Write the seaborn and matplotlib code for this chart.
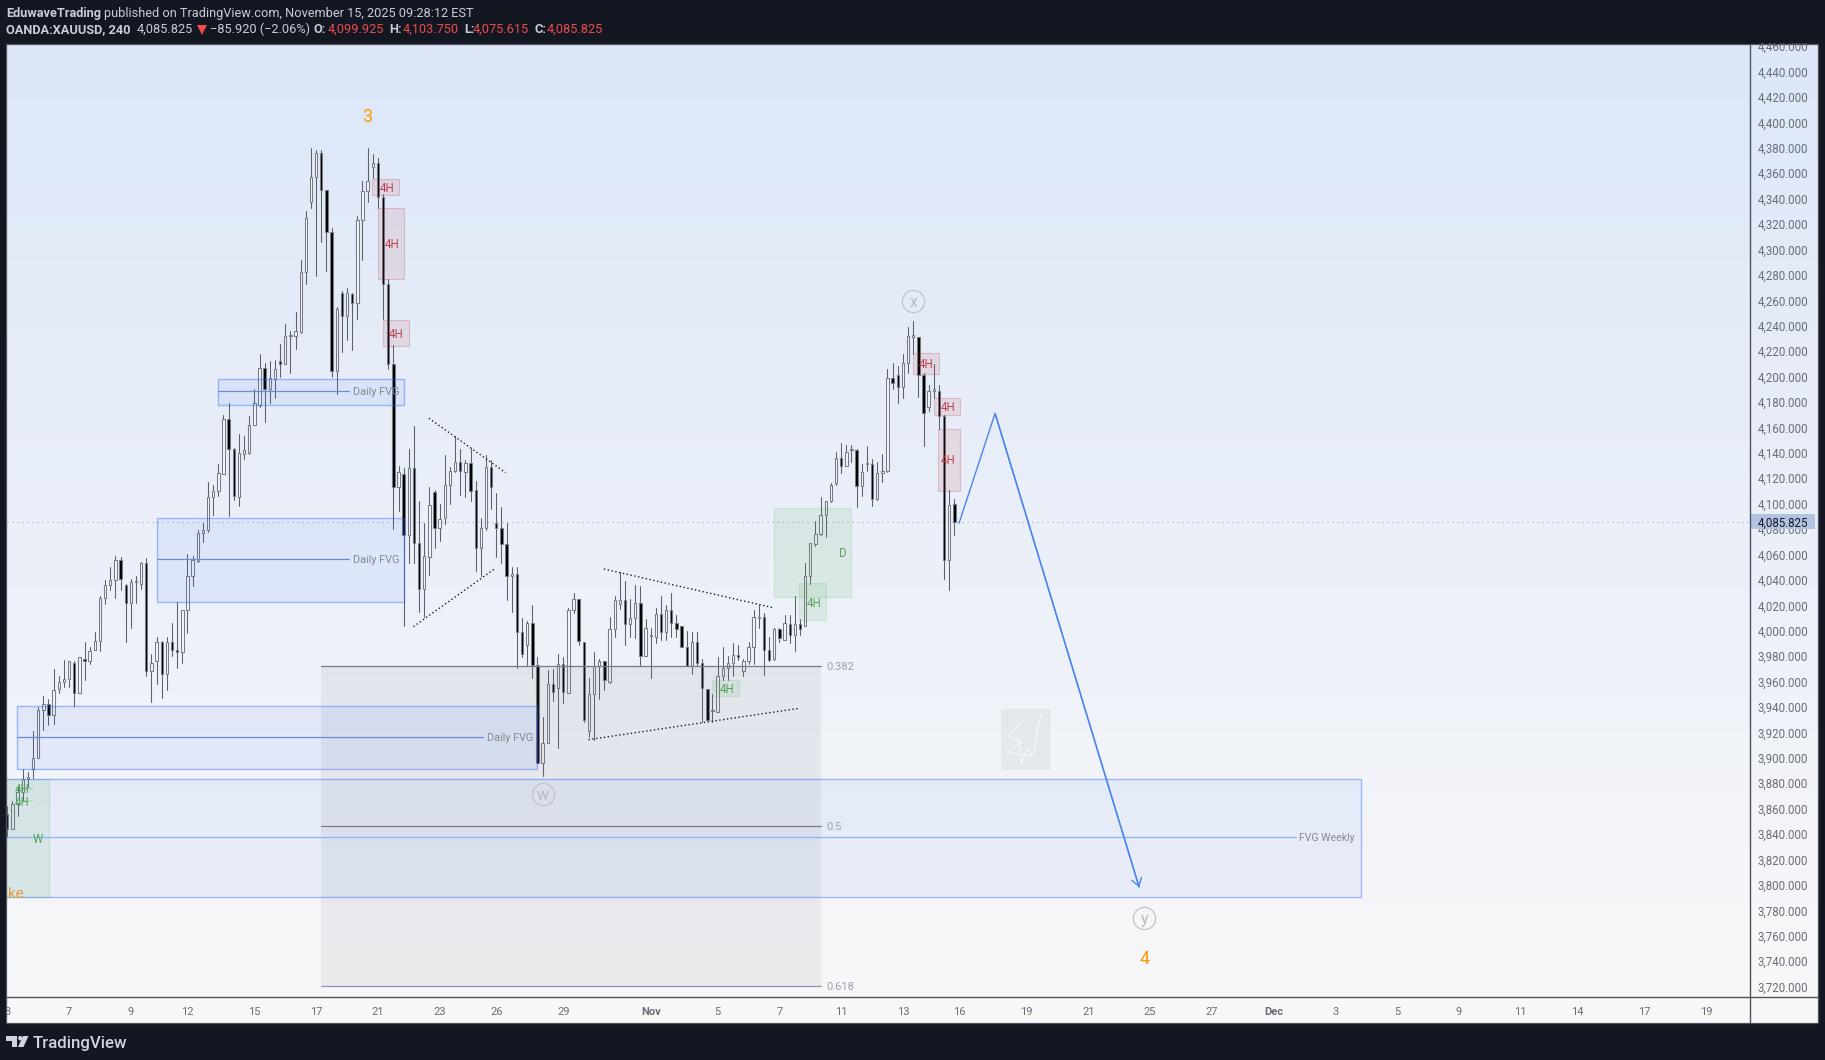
import matplotlib
matplotlib.use("Agg")

import matplotlib.pyplot as plt
import numpy as np
import pandas as pd
import seaborn as sns
from matplotlib.patches import Circle, Polygon, Rectangle

opens = [
    3856, 3844, 3864, 3873, 3883, 3891, 3900, 3938, 3942, 3934,
    3954, 3960, 3962, 3975, 3951, 3978, 3976, 3985, 3992, 4026,
    4036, 4040, 4056, 4036, 4022, 4038, 4037, 4053, 3968, 3976,
    3991, 3966, 3991, 3985, 3983, 4016, 4043, 4055, 4077, 4079,
    4105, 4110, 4123, 4167, 4143, 4105, 4139, 4140, 4162, 4178,
    4207, 4190, 4198, 4212, 4210, 4232, 4232, 4235, 4282, 4337,
    4357, 4376, 4347, 4314, 4204, 4266, 4248, 4265, 4258, 4323,
    4346, 4365, 4368, 4341, 4273, 4210, 4113, 4123, 4075, 4128,
    4069, 4033, 4058, 4109, 4081, 4089, 4115, 4126, 4133, 4125,
    4132, 4111, 4065, 4081, 4129, 4085, 4081, 4068, 4043, 4045,
    3999, 3989, 4006, 3973, 3896, 3912, 3958, 3955, 3974, 3951,
    4016, 4025, 3991, 3921, 3950, 3972, 3976, 3960, 4001, 4021,
    4024, 4005, 4010, 4022, 3980, 3996, 3995, 4013, 3999, 4016,
    4006, 4004, 3987, 3972, 3991, 3975, 3954, 3937, 3936, 3964,
    3971, 3975, 3981, 3968, 3976, 3987, 4010, 4011, 3985, 3978,
    4001, 3993, 4005, 3997, 4005, 4004, 4043, 4068, 4076, 4091,
    4102, 4116, 4136, 4130, 4142, 4142, 4114, 4131, 4131, 4104,
    4124, 4126, 4199, 4201, 4192, 4211, 4231, 4231, 4201, 4176,
    4189, 4189, 4169, 4056, 4099.925,
]
highs = [
    3862, 3866, 3877, 3891, 3889, 3921, 3940, 3949, 3946, 3970,
    3964, 3977, 3976, 3976, 3979, 3991, 3987, 3999, 4027, 4040,
    4050, 4059, 4058, 4037, 4041, 4043, 4054, 4057, 3982, 3995,
    3992, 3995, 4006, 4023, 4016, 4060, 4059, 4079, 4085, 4117,
    4115, 4131, 4170, 4179, 4144, 4155, 4153, 4169, 4190, 4218,
    4211, 4212, 4213, 4226, 4241, 4236, 4251, 4292, 4330, 4380,
    4378, 4378, 4347, 4317, 4255, 4267, 4270, 4266, 4326, 4354,
    4380, 4375, 4372, 4344, 4277, 4225, 4130, 4128, 4143, 4161,
    4102, 4085, 4113, 4111, 4100, 4138, 4129, 4153, 4143, 4134,
    4144, 4118, 4089, 4138, 4134, 4108, 4097, 4085, 4050, 4050,
    4010, 4008, 4020, 3979, 3932, 3969, 3970, 3982, 3979, 4018,
    4030, 4025, 3991, 3963, 3983, 3978, 3976, 4011, 4027, 4046,
    4039, 4025, 4036, 4035, 4009, 4002, 4018, 4027, 4020, 4030,
    4012, 4004, 4000, 3999, 3999, 3978, 3954, 3950, 3979, 3987,
    3980, 3990, 3989, 3978, 3991, 4016, 4020, 4014, 3995, 4002,
    4002, 4012, 4012, 4027, 4009, 4053, 4069, 4086, 4105, 4102,
    4116, 4141, 4148, 4146, 4146, 4143, 4131, 4145, 4135, 4133,
    4139, 4206, 4211, 4208, 4218, 4239, 4244, 4231, 4203, 4193,
    4210, 4193, 4170, 4111, 4103.75,
]
lows = [
    3838, 3844, 3854, 3867, 3877, 3884, 3900, 3922, 3926, 3927,
    3951, 3956, 3956, 3941, 3951, 3961, 3974, 3985, 3984, 4021,
    4032, 4026, 4032, 3991, 4002, 4022, 4033, 3964, 3944, 3958,
    3947, 3953, 3980, 3971, 3975, 3998, 4035, 4054, 4070, 4078,
    4091, 4106, 4123, 4090, 4103, 4098, 4135, 4139, 4162, 4176,
    4164, 4179, 4183, 4200, 4210, 4203, 4222, 4234, 4273, 4333,
    4279, 4306, 4283, 4200, 4186, 4219, 4229, 4221, 4245, 4292,
    4337, 4356, 4333, 4245, 4206, 4080, 4094, 4004, 4053, 4053,
    4015, 4011, 4044, 4065, 4071, 4084, 4100, 4125, 4107, 4105,
    4102, 4047, 4043, 4079, 4096, 4058, 4053, 4024, 4015, 3971,
    3979, 3972, 3963, 3896, 3886, 3912, 3945, 3908, 3943, 3951,
    4014, 3989, 3928, 3916, 3914, 3946, 3953, 3959, 3995, 4017,
    3989, 3995, 3994, 3972, 3980, 3963, 3990, 3993, 3993, 3995,
    3995, 3987, 3972, 3966, 3972, 3928, 3930, 3928, 3936, 3961,
    3961, 3964, 3977, 3964, 3974, 3974, 4002, 3965, 3976, 3977,
    3991, 3993, 3990, 3984, 3997, 4004, 4037, 4067, 4075, 4074,
    4101, 4115, 4124, 4130, 4133, 4097, 4106, 4126, 4098, 4103,
    4117, 4125, 4190, 4179, 4183, 4203, 4218, 4184, 4145, 4173,
    4183, 4159, 4041, 4032, 4075.615,
]
closes = [
    3844, 3864, 3873, 3883, 3885, 3900, 3938, 3942, 3934, 3953,
    3960, 3962, 3976, 3951, 3979, 3976, 3984, 3992, 4026, 4036,
    4040, 4056, 4041, 4022, 4038, 4038, 4053, 3968, 3975, 3991,
    3966, 3991, 3985, 3983, 4016, 4043, 4056, 4077, 4079, 4105,
    4110, 4124, 4167, 4143, 4106, 4140, 4142, 4162, 4179, 4207,
    4190, 4199, 4206, 4210, 4232, 4232, 4236, 4282, 4325, 4357,
    4376, 4347, 4314, 4204, 4253, 4248, 4266, 4258, 4323, 4346,
    4354, 4368, 4341, 4273, 4210, 4113, 4125, 4075, 4128, 4069,
    4033, 4059, 4099, 4081, 4088, 4115, 4126, 4133, 4126, 4132,
    4110, 4065, 4081, 4129, 4113, 4081, 4068, 4043, 4045, 3999,
    3982, 4006, 3973, 3896, 3912, 3958, 3952, 3974, 3952, 4016,
    4025, 3992, 3930, 3950, 3972, 3976, 3961, 4001, 4024, 4024,
    4005, 4010, 4022, 3980, 4002, 3996, 4013, 3999, 4016, 4006,
    4001, 3987, 3972, 3991, 3975, 3955, 3930, 3937, 3964, 3971,
    3975, 3981, 3979, 3976, 3987, 4011, 4011, 3985, 3977, 4001,
    3994, 4006, 3997, 4005, 4001, 4043, 4069, 4076, 4091, 4102,
    4115, 4136, 4130, 4141, 4142, 4114, 4125, 4131, 4104, 4124,
    4126, 4199, 4195, 4192, 4211, 4232, 4233, 4201, 4171, 4189,
    4189, 4169, 4056, 4099, 4085.825,
]

last_price = 4085.825
price_ticks = list(range(3720, 4461, 20))

time_ticks = [0, 12, 24, 35, 48, 60, 72, 84, 95, 108, 125, 138, 150, 162, 174,
              185, 198, 210, 222, 234, 246, 258, 270, 282, 294, 305, 318, 330]
time_labels = ["3", "7", "9", "12", "15", "17", "21", "23", "26", "29", "Nov", "5", "7", "11", "13",
               "16", "19", "21", "25", "27", "Dec", "3", "5", "9", "11", "14", "17", "19"]

# zones: x0, x1, top, bottom
fvg_zones = [(41, 77, 4198, 4178), (29, 77, 4089, 4022.4), (1.9, 103, 3940.6, 3891)]
fvg_mids = [(41, 66.4, 4188.4), (29, 66.4, 4056.2), (1.9, 92.4, 3916)]
weekly_zone = (-1, 263, 3883.6, 3790.5)
weekly_mid = (-1, 250.4, 3837.5)
green_zones = [(149, 164, 4096.4, 4026.8), (153.9, 159, 4037.3, 4008.2),
               (137, 142.1, 3961.2, 3948.9), (-1, 8.1, 3883, 3790.5)]
green_strips = [(1.6, 5, 3877, 3875), (1.6, 5, 3867, 3865)]
red_zones = [(70.9, 76, 4355.3, 4343.1), (72.1, 77, 4332.4, 4277), (73, 78, 4244.3, 4224.3),
             (176, 181, 4218.3, 4202.3), (180, 185.1, 4183, 4170), (180.9, 185.1, 4158.5, 4110.2)]
red_labels = [(73.8, 4349), (74.8, 4305), (75.6, 4234), (178.6, 4210.5), (182.7, 4176.5), (182.7, 4135)]
green_labels = [(156.7, 4022.5, "4H"), (139.8, 3955, "4H"), (162.3, 4062, "D"),
                (6, 3837, "W"), (2.8, 3876, "4H"), (2.8, 3866, "4H")]

fib_x = (60.9, 158)
fib_levels = [3972.5, 3846.3, 3720.5]
fib_names = ["0.382", "0.5", "0.618"]
fib_colors = ["#787b86", "#787b86", "#8497b4"]

dotted_lines = [
    ((81.9, 96.8), (4167.2, 4124.4)),
    ((78.9, 94.8), (4003.2, 4049.1)),
    ((115.9, 148.8), (4048.6, 4018.1)),
    ((112.9, 153.9), (3914.3, 3939)),
]
path_x = [184.9, 191.9, 219.9]
path_y = [4084.6, 4171.1, 3798.1]
wave_marks = [(176, 4259.5, "x"), (104, 3871.4, "w"), (220.9, 3773.6, "y")]
wave_numbers = [(70, 4404, "3"), (220.9, 3741.7, "4")]

W, H = 1825, 1060
DARK = "#131722"
BLUE = "#2962ff"
GREEN = "#4caf50"
RED = "#b22833"
WICK = "#5d606b"
EDGE = "#787b86"
TEXT_GREY = "#868993"
AXIS_GREY = "#6a6d78"
LINE_GREY = "#50535e"

sns.set_theme(style="white")
plt.rcParams["font.family"] = ["Roboto", "DejaVu Sans"]
plt.rcParams["axes.unicode_minus"] = False

fig = plt.figure(figsize=(W / 100, H / 100), dpi=100, facecolor=DARK)


def box(left, top, right, bottom, **kwargs):
    return fig.add_axes([left / W, 1 - bottom / H, (right - left) / W, (bottom - top) / H], **kwargs)


def zone(ax, spec, face, face_alpha, edge_alpha, lw=0.8):
    x0, x1, top, bottom = spec
    rgba = matplotlib.colors.to_rgb(face)
    ax.add_patch(Rectangle((x0, bottom), x1 - x0, top - bottom, facecolor=(*rgba, face_alpha),
                           edgecolor=(*rgba, edge_alpha), linewidth=lw, zorder=3))


# pane background runs under the chart and both axes
bg = box(6, 43.5, 1818, 1023)
grad_top = np.array([221, 231, 248]) / 255
grad_bottom = np.array([248, 248, 248]) / 255
bg.imshow(grad_top + np.linspace(0, 1, 256)[:, None, None] * (grad_bottom - grad_top),
          aspect="auto", extent=(0, 1, 0, 1))
bg.axis("off")

ax = box(7, 43.5, 1750.7, 997)
ax.patch.set_alpha(0)
xlim = (-0.06, 338.7)
ylim = (3711.8, 4462.1)

candles = pd.DataFrame({"open": opens, "high": highs, "low": lows, "close": closes})
candles["idx"] = candles.index
candles["up"] = candles["close"] >= candles["open"]
wicks = candles.melt(id_vars="idx", value_vars=["high", "low"], value_name="price")
sns.lineplot(data=wicks, x="idx", y="price", units="idx", estimator=None, color=WICK,
             linewidth=0.75, legend=False, ax=ax, zorder=2)

up = candles[candles["up"]]
down = candles[~candles["up"]]
ax.bar(up["idx"], (up["close"] - up["open"]).clip(lower=1), bottom=up["open"], width=0.46,
       facecolor="#f2f5fb", edgecolor=EDGE, linewidth=0.75, zorder=2.2)
ax.bar(down["idx"], (down["open"] - down["close"]).clip(lower=1), bottom=down["close"], width=0.46,
       facecolor="#000000", edgecolor=EDGE, linewidth=0.75, zorder=2.2)

ax.axhline(last_price, color="#a9b2d8", lw=0.9, ls=(0, (1, 3)), zorder=1.5)

# fib block
ax.add_patch(Rectangle((fib_x[0], fib_levels[2]), fib_x[1] - fib_x[0], fib_levels[0] - fib_levels[2],
                       facecolor=(0.47, 0.48, 0.525, 0.1), edgecolor="none", zorder=3))
for level, name, color in zip(fib_levels, fib_names, fib_colors):
    ax.plot(fib_x, [level, level], color=color, lw=0.9, zorder=3.2)
    ax.text(fib_x[1] + 1.2, level, name, color="#9ba3b4", fontsize=8, va="center_baseline", ha="left", zorder=4)

# FVG zones
zone(ax, weekly_zone, BLUE, 0.06, 0.4, lw=1.0)
ax.plot(weekly_mid[:2], [weekly_mid[2]] * 2, color="#92b1f2", lw=0.9, zorder=3.2)
ax.text(weekly_mid[1] + 0.6, weekly_mid[2], "FVG Weekly", color=TEXT_GREY, fontsize=7.6,
        va="center_baseline", zorder=4)
for spec, (m0, m1, my) in zip(fvg_zones, fvg_mids):
    zone(ax, spec, BLUE, 0.07, 0.4, lw=1.0)
    ax.plot((m0, m1), (my, my), color="#6a8bdc", lw=0.9, zorder=3.2)
    ax.text(m1 + 0.7, my, "Daily FVG", color=TEXT_GREY, fontsize=7.8, va="center_baseline", zorder=4)

for spec in green_zones:
    zone(ax, spec, GREEN, 0.11, 0.16)
for spec in green_strips:
    zone(ax, spec, GREEN, 0.18, 0.0)
for spec in red_zones:
    zone(ax, spec, RED, 0.1, 0.22)
for x, y in red_labels:
    ax.text(x, y, "4H", color="#c0404f", fontsize=8.3, ha="center", va="center_baseline", zorder=4)
for x, y, label in green_labels:
    ax.text(x, y, label, color="#55a45c", fontsize=8.3, ha="center", va="center_baseline", zorder=4)
ax.text(0.2, 3793, "ke", color="#e8963c", fontsize=11, ha="left", va="center", zorder=4)

for xs, ys in dotted_lines:
    ax.plot(xs, ys, color="#1a1c22", lw=1.0, ls=(0, (1, 1.8)), zorder=3.5)

path_color = "#4a86f0"
ax.plot(path_x, path_y, color=path_color, lw=1.0, zorder=4, solid_joinstyle="miter")
ax.annotate("", xy=(path_x[2], path_y[2]), xytext=(path_x[1], path_y[1]), zorder=4,
            arrowprops=dict(arrowstyle="->,head_length=0.45,head_width=0.3", color=path_color, lw=1.0,
                            shrinkA=0, shrinkB=0))

for x, y, letter in wave_marks:
    ax.plot([x], [y], marker="o", ms=16, mfc="none", mec="#c2c4c8", mew=0.9, zorder=4)
    ax.text(x, y, letter, color="#b8bac0", fontsize=11.5, ha="center", va="center_baseline", zorder=4)
for x, y, number in wave_numbers:
    ax.text(x, y, number, color="#ff9800", fontsize=13, ha="center", va="center", zorder=4)

ax.set_xlim(xlim)
ax.set_ylim(ylim)
ax.set_xlabel("")
ax.set_ylabel("")
ax.set_xticks([])
ax.set_yticks([])
sns.despine(ax=ax, left=True, right=True, top=True, bottom=True)

# signature stamp
stamp = box(1001, 709, 1050, 770)
stamp.set_facecolor("#e4e7ec")
stamp.plot([62, 20, 62, 17, 95, 82, 67, 62, 55, 27], [41, 81, 98, 131, 141, 121, 138, 171, 103, 83],
           color="#f3f4f6", lw=1.0)
stamp.plot([99, 109, 124], [138, 53, 11], color="#f3f4f6", lw=1.0)
stamp.set_xlim(0, 147)
stamp.set_ylim(183, 0)
stamp.set_xticks([])
stamp.set_yticks([])
sns.despine(ax=stamp, left=True, right=True, top=True, bottom=True)

# price axis
price_ax = box(1750.7, 43.5, 1818, 997)
price_ax.patch.set_alpha(0)
price_ax.set_ylim(ylim)
price_ax.set_xlim(0, 1)
price_ax.set_xticks([])
price_ax.yaxis.tick_right()
price_ax.set_yticks(price_ticks, labels=[f"{p:,.3f}" for p in price_ticks])
price_ax.tick_params(axis="y", length=0, pad=-43.5, labelsize=8.3, labelcolor=AXIS_GREY)
sns.despine(ax=price_ax, left=True, right=True, top=True, bottom=True)
price_ax.add_patch(Rectangle((0, last_price - 6.0), 0.955, 11.8, facecolor="#b2c3e0", edgecolor="none", zorder=5))
price_ax.text(0.108, last_price, f"{last_price:,.3f}", color="#131722", fontsize=8.3, va="center_baseline",
              ha="left", zorder=6)

# time axis
time_ax = box(7, 997, 1750.7, 1023)
time_ax.patch.set_alpha(0)
time_ax.set_xlim(xlim)
time_ax.set_ylim(0, 1)
time_ax.set_yticks([])
time_ax.set_xticks(time_ticks, labels=time_labels)
time_ax.tick_params(axis="x", length=0, pad=-11.5, labelsize=8.0, labelcolor=AXIS_GREY)
for tick in time_ax.get_xticklabels():
    if tick.get_text() in ("Nov", "Dec"):
        tick.set_fontweight("bold")
sns.despine(ax=time_ax, left=True, right=True, top=True, bottom=True)

# dark frame and header on top of everything
chrome = box(0, 0, W, H)
chrome.patch.set_alpha(0)
chrome.set_xlim(0, W)
chrome.set_ylim(H, 0)
chrome.axis("off")
chrome.set_zorder(10)
for x, y, w, h in [(0, 0, W, 43), (0, 0, 6, H), (1818, 0, 7, H), (0, 1023, W, 37)]:
    chrome.add_patch(Rectangle((x, y), w, h, facecolor=DARK, edgecolor="none"))
chrome.plot([6, 1818, 1818, 6, 6], [43.5, 43.5, 1023, 1023, 43.5], color=LINE_GREY, lw=0.9)
chrome.plot([6, 1818], [997.3, 997.3], color=LINE_GREY, lw=1.0)
chrome.plot([1750.5, 1750.5], [43.5, 1023], color=LINE_GREY, lw=1.0)

head_light = "#c8ccd6"
head_red = "#ef4a4a"
chrome.text(6, 13.5, "EduwaveTrading", color=head_light, fontsize=9.2, fontweight="bold", va="center")
chrome.text(104, 13.5, "published on TradingView.com, November 15, 2025 09:28:12 EST", color=head_light,
            fontsize=9.15, va="center")
header_row = [
    (6, "OANDA:XAUUSD, 240", head_light, "bold"),
    (137, "4,085.825", head_light, "normal"),
    (210, "−85.920 (−2.06%)", head_light, "normal"),
    (314, "O:", head_light, "bold"),
    (328, "4,099.925", head_red, "normal"),
    (389, "H:", head_light, "bold"),
    (403, "4,103.750", head_red, "normal"),
    (464, "L:", head_light, "bold"),
    (473, "4,075.615", head_red, "normal"),
    (535, "C:", head_light, "bold"),
    (547, "4,085.825", head_red, "normal"),
]
for x, label, color, weight in header_row:
    chrome.text(x, 29.5, label, color=color, fontsize=9.15, fontweight=weight, va="center")
chrome.add_patch(Polygon([(197, 25), (207, 25), (202, 35)], facecolor=head_red, edgecolor="none"))

# TradingView logo
logo = "#d1d4dc"
chrome.add_patch(Polygon([(6, 1036), (17, 1036), (17, 1047), (12, 1047), (12, 1040.5), (6, 1040.5)],
                         facecolor=logo, edgecolor="none"))
chrome.add_patch(Circle((20.3, 1038.2), 2.2, facecolor=logo, edgecolor="none"))
chrome.add_patch(Polygon([(23, 1036), (28.5, 1036), (23.5, 1047), (18, 1047)], facecolor=logo, edgecolor="none"))
chrome.text(33, 1043.5, "TradingView", color=logo, fontsize=12.2, fontweight="medium", va="center")

fig.savefig("out.png", dpi=100, facecolor=DARK)
plt.close(fig)
